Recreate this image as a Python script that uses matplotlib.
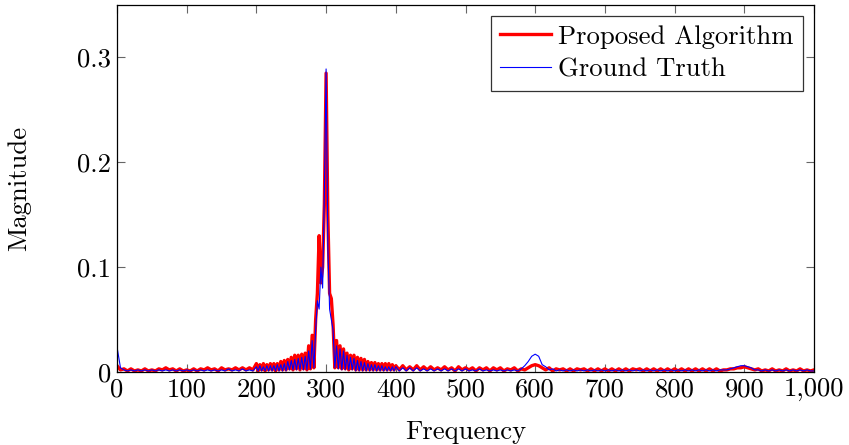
import numpy as np
import matplotlib
matplotlib.use("Agg")
import matplotlib.pyplot as plt
from matplotlib.ticker import FixedLocator, FixedFormatter

# ---------------- data ----------------
# frequency grid: 0..195 step 5, 200..397.5 step 2.5, 400..1000 step 5
freq_a = np.arange(0, 200, 5.0)
freq_b = np.arange(200, 400, 2.5)
freq_c = np.arange(400, 1000.1, 5.0)

proposed_a = [0.006, 0.002, 0.003, 0.001, 0.003, 0.001, 0.002, 0.001, 0.003, 0.001,
              0.002, 0.001, 0.003, 0.002, 0.004, 0.002, 0.003, 0.001, 0.003, 0.001,
              0.002, 0.001, 0.003, 0.001, 0.003, 0.002, 0.004, 0.002, 0.003, 0.001,
              0.004, 0.002, 0.003, 0.002, 0.004, 0.002, 0.004, 0.002, 0.004, 0.002]
proposed_b = [0.008, 0.001, 0.007, 0.002, 0.008, 0.001, 0.007, 0.002,
              0.008, 0.002, 0.008, 0.001, 0.008, 0.002, 0.010, 0.002,
              0.011, 0.002, 0.012, 0.003, 0.014, 0.002, 0.016, 0.003,
              0.016, 0.002, 0.017, 0.003, 0.018, 0.002, 0.025, 0.003,
              0.035, 0.004, 0.050, 0.075, 0.130, 0.085, 0.100, 0.160,
              0.285, 0.150, 0.075, 0.070, 0.045, 0.004, 0.030, 0.004,
              0.025, 0.003, 0.022, 0.003, 0.018, 0.002, 0.016, 0.003,
              0.016, 0.002, 0.014, 0.002, 0.013, 0.002, 0.012, 0.002,
              0.010, 0.002, 0.009, 0.002, 0.009, 0.002, 0.008, 0.002,
              0.008, 0.002, 0.008, 0.002, 0.008, 0.002, 0.007, 0.002]
proposed_c = [0.006, 0.002, 0.006, 0.002, 0.005, 0.002, 0.006, 0.002, 0.005, 0.002,
              0.005, 0.002, 0.004, 0.002, 0.005, 0.002, 0.004, 0.001, 0.005, 0.002,
              0.004, 0.002, 0.004, 0.001, 0.004, 0.002, 0.004, 0.001, 0.004, 0.002,
              0.004, 0.001, 0.003, 0.002, 0.004, 0.001, 0.003, 0.002, 0.004, 0.006,
              0.007, 0.006, 0.004, 0.002, 0.004, 0.001, 0.003, 0.002, 0.003, 0.001,
              0.003, 0.001, 0.003, 0.002, 0.003, 0.001, 0.003, 0.001, 0.003, 0.001,
              0.003, 0.001, 0.003, 0.001, 0.003, 0.001, 0.003, 0.001, 0.003, 0.002,
              0.003, 0.001, 0.003, 0.001, 0.003, 0.001, 0.003, 0.001, 0.003, 0.001,
              0.003, 0.001, 0.003, 0.001, 0.003, 0.001, 0.003, 0.001, 0.003, 0.001,
              0.003, 0.001, 0.003, 0.001, 0.002, 0.002, 0.003, 0.003, 0.004, 0.004,
              0.005, 0.004, 0.003, 0.002, 0.003, 0.001, 0.002, 0.001, 0.003, 0.001,
              0.002, 0.001, 0.003, 0.001, 0.002, 0.001, 0.003, 0.001, 0.002, 0.001,
              0.002]

truth_a = [0.024, 0.004, 0.002, 0.001, 0.002, 0.001, 0.002, 0.001, 0.002, 0.001,
           0.002, 0.001, 0.002, 0.001, 0.002, 0.001, 0.002, 0.001, 0.002, 0.001,
           0.002, 0.001, 0.002, 0.001, 0.002, 0.001, 0.002, 0.001, 0.002, 0.001,
           0.002, 0.001, 0.003, 0.001, 0.002, 0.001, 0.003, 0.001, 0.002, 0.001]
truth_b = [0.005, 0.001, 0.006, 0.001, 0.005, 0.001, 0.006, 0.001,
           0.006, 0.001, 0.006, 0.001, 0.007, 0.001, 0.007, 0.001,
           0.008, 0.001, 0.010, 0.002, 0.011, 0.002, 0.012, 0.002,
           0.013, 0.002, 0.014, 0.002, 0.015, 0.002, 0.020, 0.003,
           0.030, 0.004, 0.040, 0.068, 0.060, 0.100, 0.080, 0.170,
           0.289, 0.120, 0.060, 0.050, 0.040, 0.004, 0.025, 0.003,
           0.022, 0.002, 0.020, 0.002, 0.016, 0.002, 0.014, 0.002,
           0.013, 0.001, 0.011, 0.001, 0.010, 0.001, 0.009, 0.001,
           0.008, 0.001, 0.007, 0.001, 0.007, 0.001, 0.006, 0.001,
           0.006, 0.001, 0.005, 0.001, 0.005, 0.001, 0.005, 0.001]
truth_c = [0.005, 0.001, 0.004, 0.001, 0.004, 0.001, 0.004, 0.001, 0.003, 0.001,
           0.003, 0.001, 0.003, 0.001, 0.003, 0.001, 0.003, 0.001, 0.003, 0.001,
           0.003, 0.001, 0.002, 0.001, 0.003, 0.001, 0.002, 0.001, 0.002, 0.001,
           0.002, 0.001, 0.002, 0.001, 0.002, 0.001, 0.003, 0.006, 0.010, 0.015,
           0.017, 0.015, 0.007, 0.005, 0.002, 0.003, 0.001, 0.002, 0.001, 0.002,
           0.001, 0.002, 0.001, 0.002, 0.001, 0.002, 0.001, 0.002, 0.001, 0.002,
           0.001, 0.002, 0.001, 0.002, 0.001, 0.002, 0.001, 0.002, 0.001, 0.002,
           0.001, 0.002, 0.001, 0.002, 0.001, 0.002, 0.001, 0.002, 0.001, 0.002,
           0.001, 0.002, 0.001, 0.002, 0.001, 0.002, 0.001, 0.002, 0.001, 0.002,
           0.001, 0.002, 0.001, 0.002, 0.002, 0.002, 0.003, 0.004, 0.005, 0.006,
           0.006, 0.005, 0.004, 0.002, 0.002, 0.001, 0.002, 0.001, 0.002, 0.001,
           0.002, 0.001, 0.002, 0.001, 0.002, 0.001, 0.002, 0.001, 0.002, 0.001,
           0.001]

x_ticks = [0, 100, 200, 300, 400, 500, 600, 700, 800, 900, 1000]
x_tick_labels = ["0", "100", "200", "300", "400", "500", "600", "700", "800", "900", "1,000"]
y_ticks = [0, 0.1, 0.2, 0.3]
y_tick_labels = ["0", "0.1", "0.2", "0.3"]

freq = np.concatenate([freq_a, freq_b, freq_c])
proposed = np.concatenate([proposed_a, proposed_b, proposed_c])
truth = np.concatenate([truth_a, truth_b, truth_c])

# ---------------- style ----------------
plt.rcParams["font.family"] = ["cmr10", "DejaVu Serif"]
plt.rcParams["mathtext.fontset"] = "cm"
plt.rcParams["axes.unicode_minus"] = False

FS = 19.2
fig = plt.figure(figsize=(8.49, 4.45), dpi=100)
ax = fig.add_axes([117 / 849, 1 - 372 / 445, (814 - 117) / 849, (372 - 5) / 445])

ax.plot(freq, proposed, color=(1, 0, 0), linewidth=2.4, label="Proposed Algorithm",
        solid_joinstyle="round")
ax.plot(freq, truth, color=(0, 0, 1), linewidth=0.8, label="Ground Truth")

ax.set_xlim(0, 1000)
ax.set_ylim(0, 0.35)
ax.xaxis.set_major_locator(FixedLocator(x_ticks))
ax.xaxis.set_major_formatter(FixedFormatter(x_tick_labels))
ax.yaxis.set_major_locator(FixedLocator(y_ticks))
ax.yaxis.set_major_formatter(FixedFormatter(y_tick_labels))
ax.tick_params(direction="in", length=6, width=0.8, color="#666666",
               top=True, right=True, labelsize=FS, pad=4)
for s in ax.spines.values():
    s.set_linewidth(0.9)
    s.set_color("black")

ax.set_xlabel("Frequency", fontsize=FS, labelpad=14)
ax.set_ylabel("Magnitude", fontsize=FS, labelpad=33)

leg = ax.legend(loc="upper right", fontsize=FS, frameon=True, fancybox=False,
                edgecolor="black", borderpad=0.35, labelspacing=0.35,
                handlelength=1.9, handletextpad=0.3, borderaxespad=0.4)
leg.get_frame().set_linewidth(0.9)

fig.savefig("out.png", dpi=100)
